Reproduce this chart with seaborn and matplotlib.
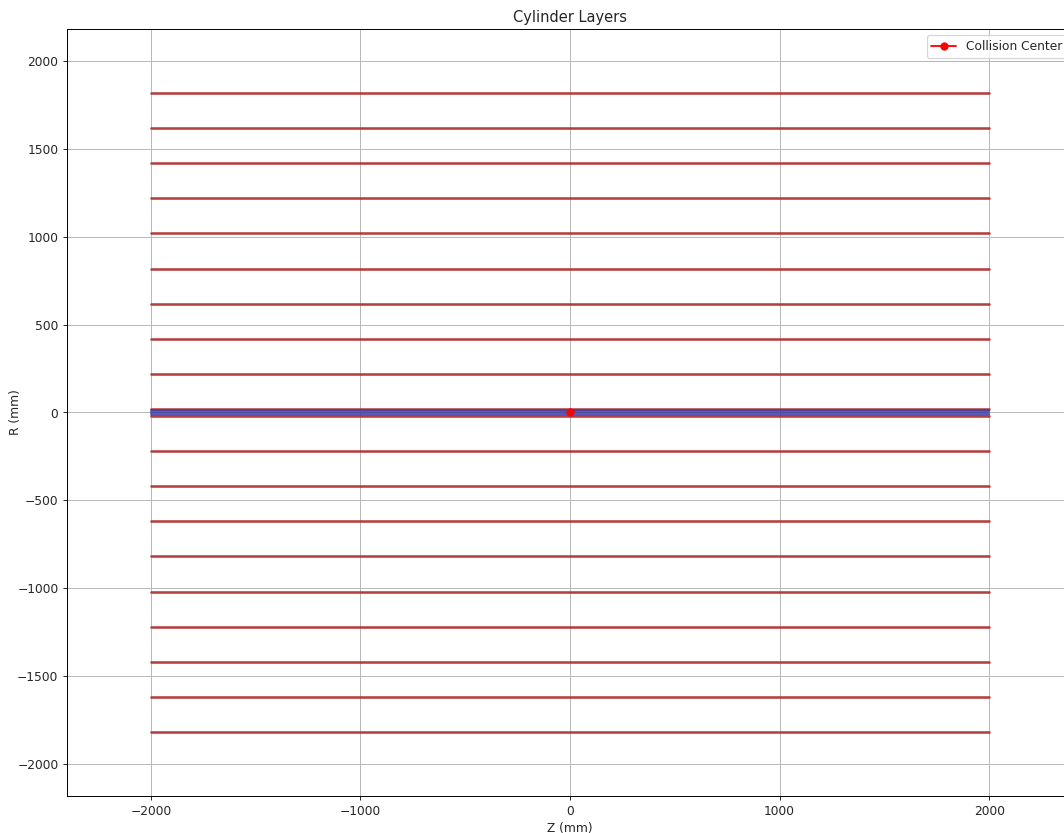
import numpy as np
import pandas as pd
import matplotlib
matplotlib.use("Agg")
import matplotlib.pyplot as plt
import seaborn as sns

# Detector geometry (mm)
half_length = 2000
inner_radii = [5, 10, 15]                      # inner (pixel) layers
outer_radii = [20, 220, 420, 620, 820, 1020, 1220, 1420, 1620, 1820]  # outer layers
collision_z = [0]
collision_r = [0]

sns.set_style("white")
plt.rcParams["font.family"] = ["DejaVu Sans"]


def layer_frame(radii):
    rows = []
    for i, r in enumerate(radii):
        for sign in (1, -1):
            for z in (-half_length, half_length):
                rows.append({"layer": f"{i}{'+' if sign > 0 else '-'}", "z": z, "r": sign * r})
    return pd.DataFrame(rows)


DPI = 88
fig = plt.figure(figsize=(1064 / DPI, 833 / DPI), dpi=DPI)
ax = fig.add_axes([67 / 1064, 37 / 833, 1006 / 1064, 767 / 833])

sns.lineplot(data=layer_frame(outer_radii), x="z", y="r", units="layer", estimator=None,
             color="#ac2a2a", linewidth=2.1, alpha=0.9, ax=ax, legend=False)
sns.lineplot(data=layer_frame(inner_radii), x="z", y="r", units="layer", estimator=None,
             color="#3838a8", linewidth=1.6, alpha=0.6, ax=ax, legend=False)
sns.lineplot(x=collision_z, y=collision_r, marker="o", color="red", markersize=6,
             markeredgecolor="red", linewidth=1.5, label="Collision Center", ax=ax)

r_max = max(outer_radii)
ax.set_xlim(-half_length * 1.2, half_length * 1.2)
ax.set_ylim(-r_max * 1.2, r_max * 1.2)
ax.set_xticks([-2000, -1000, 0, 1000, 2000])
ax.set_yticks([-2000, -1500, -1000, -500, 0, 500, 1000, 1500, 2000])
ax.grid(True, color="#b8b8b8", linewidth=0.8)
ax.set_axisbelow(True)
ax.tick_params(axis="both", which="both", direction="out", length=3.5, width=0.8,
               bottom=True, left=True, labelsize=10)
for s in ax.spines.values():
    s.set_color("black")
    s.set_linewidth(0.8)

ax.set_title("Cylinder Layers", fontsize=12)
ax.set_xlabel("Z (mm)", fontsize=10)
ax.set_ylabel("R (mm)", fontsize=10)
ax.yaxis.set_label_coords(-0.045, 0.5)
ax.legend(loc="upper right", fontsize=10, frameon=True)

fig.savefig("out.png", dpi=DPI)
